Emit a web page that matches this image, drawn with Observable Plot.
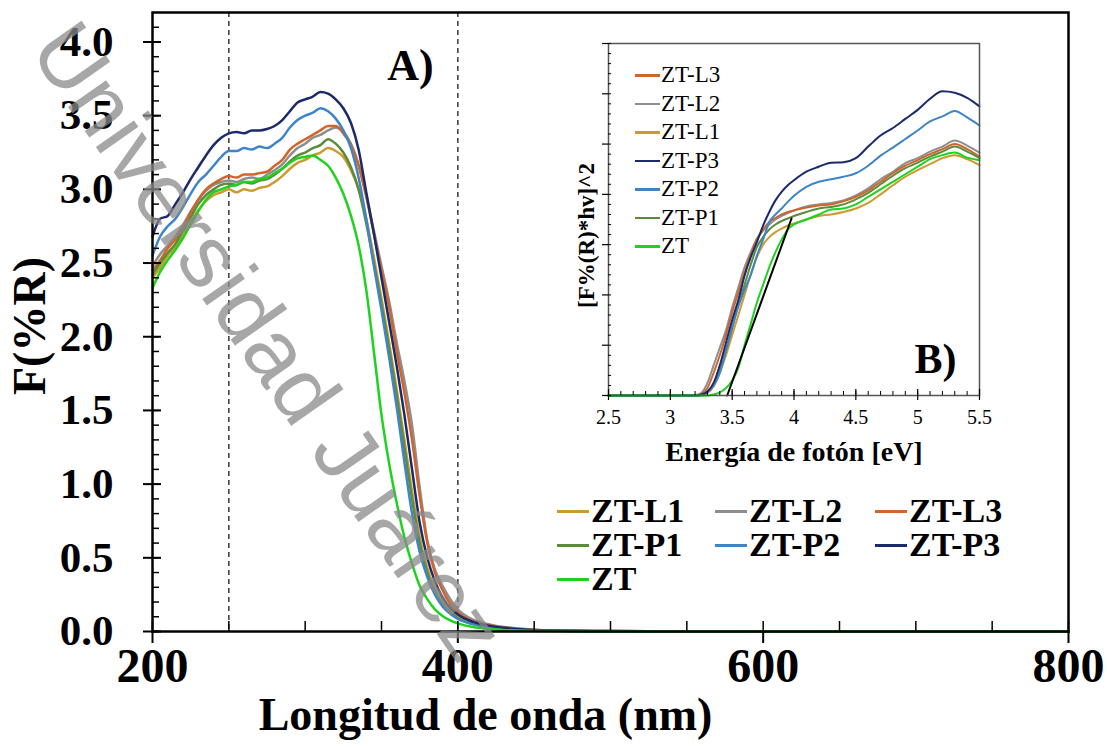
<!DOCTYPE html>
<html><head><meta charset="utf-8">
<script src="https://cdn.jsdelivr.net/npm/d3@7"></script>
<script src="https://cdn.jsdelivr.net/npm/@observablehq/plot@0.6"></script>
<style>
html,body{margin:0;padding:0;background:#fff;overflow:hidden;}
#wrap{position:relative;width:1107px;height:747px;overflow:hidden;}
#main{position:absolute;left:0;top:0;}
#inset{position:absolute;left:540px;top:30px;}
#leg{position:absolute;left:557px;top:494px;display:grid;grid-template-columns:158px 160px 160px;grid-auto-rows:34px;font-family:"Liberation Serif",serif;font-weight:bold;font-size:34px;color:#000;}
#leg div,#ileg div{display:flex;align-items:center;white-space:nowrap;}
#leg span.l{display:inline-block;width:32px;height:3px;margin-right:2px;}
#ileg{position:absolute;left:635px;top:61px;display:grid;grid-auto-rows:28.5px;font-family:"Liberation Serif",serif;font-size:23px;color:#000;}
#ileg span.l{display:inline-block;width:25px;height:2.5px;margin-right:1px;}
#wm{position:absolute;left:0;top:0;pointer-events:none;}
</style></head><body><div id="wrap"><div id="main"></div><div id="inset"></div><div id="leg"></div><div id="ileg"></div><svg id="wm" width="1107" height="747"></svg></div>
<script>
// ---------- Main chart data (A) ----------
const wl = [200,205,210,215,220,225,230,235,240,245,250,255,260,265,270,275,280,285,290,295,300,305,310,315,320,325,330,335,340,345,350,355,360,365,370,375,380,385,390,395,400,410,420,430,440,450,470,500,550,600,700,800];
const F_L1 = [2.40,2.47,2.55,2.61,2.69,2.78,2.86,2.92,2.96,2.98,3.00,2.98,3.00,2.99,3.01,3.02,3.05,3.09,3.14,3.18,3.20,3.23,3.25,3.28,3.26,3.22,3.13,3.00,2.80,2.54,2.26,1.96,1.64,1.30,0.95,0.64,0.43,0.29,0.20,0.14,0.10,0.055,0.033,0.021,0.014,0.009,0.004,0.002,0.001,0.001,0.001,0.001];
const F_L2 = [2.48,2.56,2.62,2.68,2.76,2.85,2.93,2.99,3.03,3.05,3.06,3.05,3.07,3.08,3.07,3.10,3.13,3.17,3.23,3.28,3.31,3.35,3.37,3.40,3.42,3.39,3.31,3.17,2.96,2.72,2.48,2.24,1.96,1.70,1.40,0.98,0.62,0.42,0.31,0.22,0.15,0.08,0.05,0.03,0.02,0.012,0.006,0.003,0.002,0.001,0.001,0.001];
const F_L3 = [2.45,2.52,2.60,2.66,2.74,2.84,2.93,3.00,3.04,3.07,3.09,3.08,3.10,3.10,3.11,3.12,3.16,3.20,3.27,3.31,3.34,3.37,3.40,3.43,3.43,3.38,3.30,3.16,2.95,2.70,2.45,2.20,1.90,1.62,1.30,0.92,0.60,0.40,0.28,0.19,0.13,0.07,0.045,0.028,0.018,0.011,0.005,0.003,0.002,0.001,0.001,0.001];
const F_P1 = [2.42,2.50,2.57,2.63,2.72,2.81,2.90,2.96,3.00,3.03,3.04,3.03,3.05,3.04,3.06,3.07,3.10,3.14,3.19,3.23,3.25,3.28,3.30,3.34,3.31,3.25,3.15,3.00,2.77,2.50,2.22,1.92,1.60,1.25,0.90,0.60,0.40,0.27,0.18,0.13,0.09,0.05,0.03,0.02,0.013,0.008,0.004,0.002,0.001,0.001,0.001,0.001];
const F_P2 = [2.55,2.68,2.75,2.80,2.88,2.97,3.05,3.10,3.16,3.22,3.26,3.26,3.28,3.27,3.29,3.28,3.31,3.35,3.42,3.47,3.50,3.52,3.55,3.53,3.48,3.40,3.28,3.08,2.80,2.48,2.18,1.86,1.52,1.15,0.80,0.54,0.37,0.25,0.17,0.12,0.085,0.05,0.03,0.02,0.013,0.008,0.004,0.002,0.001,0.001,0.001,0.001];
const F_P3 = [2.68,2.80,2.82,2.90,2.98,3.07,3.15,3.23,3.30,3.35,3.38,3.39,3.38,3.40,3.40,3.41,3.43,3.47,3.53,3.59,3.61,3.63,3.66,3.65,3.61,3.55,3.45,3.27,2.98,2.70,2.40,2.10,1.80,1.47,1.10,0.74,0.50,0.34,0.23,0.16,0.115,0.065,0.040,0.025,0.016,0.010,0.005,0.003,0.002,0.001,0.001,0.001];
const F_ZT = [2.33,2.44,2.52,2.59,2.67,2.76,2.85,2.93,2.98,3.00,3.02,3.03,3.05,3.05,3.07,3.08,3.11,3.14,3.18,3.21,3.22,3.23,3.20,3.16,3.08,2.97,2.82,2.62,2.32,1.90,1.47,1.14,0.87,0.64,0.46,0.31,0.22,0.15,0.105,0.075,0.055,0.03,0.018,0.011,0.007,0.005,0.003,0.002,0.001,0.001,0.001,0.001];
const yMajor = [0,0.5,1.0,1.5,2.0,2.5,3.0,3.5,4.0];
const xMajor = [200,400,600,800];
const dashedAt = [250,400];

// ---------- Inset data (B) ----------
const eV = [2.5,3.0,3.2,3.25,3.3,3.35,3.4,3.45,3.5,3.55,3.6,3.65,3.7,3.75,3.8,3.85,3.9,3.95,4.0,4.1,4.2,4.3,4.4,4.5,4.6,4.7,4.8,4.9,5.0,5.1,5.2,5.3,5.4,5.5];
const B_L1 = [0,0,0,0,0.05,0.18,0.45,0.8,1.2,1.6,2.0,2.4,2.75,3.0,3.15,3.25,3.32,3.38,3.42,3.5,3.57,3.6,3.65,3.72,3.83,4.0,4.18,4.35,4.48,4.6,4.72,4.78,4.7,4.58];
const B_L2 = [0,0,0.01,0.05,0.25,0.6,0.95,1.3,1.75,2.15,2.55,2.85,3.12,3.28,3.4,3.5,3.57,3.63,3.68,3.76,3.8,3.83,3.88,3.98,4.12,4.3,4.45,4.62,4.72,4.85,4.95,5.07,4.97,4.83];
const B_L3 = [0,0,0,0.03,0.15,0.45,0.8,1.2,1.65,2.05,2.45,2.8,3.1,3.3,3.45,3.53,3.6,3.65,3.68,3.74,3.78,3.8,3.86,3.95,4.08,4.25,4.42,4.57,4.68,4.8,4.9,5.0,4.9,4.75];
const B_P1 = [0,0,0,0.01,0.07,0.22,0.5,0.9,1.35,1.8,2.2,2.6,2.95,3.15,3.3,3.4,3.47,3.52,3.57,3.65,3.72,3.75,3.8,3.9,4.03,4.2,4.37,4.52,4.63,4.75,4.85,4.95,4.85,4.72];
const B_P2 = [0,0,0,0.01,0.06,0.2,0.45,0.9,1.35,1.77,2.1,2.4,2.78,3.1,3.45,3.6,3.72,3.85,3.97,4.15,4.25,4.3,4.35,4.42,4.57,4.77,4.93,5.1,5.27,5.45,5.55,5.66,5.53,5.37];
const B_P3 = [0,0,0,0.02,0.08,0.25,0.6,1.05,1.5,1.9,2.38,2.75,3.05,3.38,3.65,3.88,4.05,4.18,4.28,4.45,4.55,4.63,4.64,4.72,4.95,5.17,5.32,5.50,5.68,5.90,6.05,6.02,5.92,5.75];
const B_ZT = [0,0,0,0,0,0.02,0.06,0.15,0.3,0.55,1.0,1.42,1.85,2.2,2.55,2.85,3.1,3.3,3.4,3.5,3.6,3.7,3.72,3.8,3.95,4.1,4.25,4.4,4.55,4.7,4.78,4.83,4.73,4.68];
const fitE = [3.46,3.98];
const fitV = [0,3.52];
const eMajor = [2.5,3,3.5,4,4.5,5,5.5];
const yInsetMajor = [0,1,2,3,4,5,6,7];

// ---------- Series ----------
const names  = ["ZT-L1","ZT-L2","ZT-L3","ZT-P1","ZT-P2","ZT-P3","ZT"];
const colors = ["#CC9A2E","#8E8E8E","#D2642A","#5B8C3A","#3D85C6","#1B2A6B","#1ED31E"];
const mainVals  = [F_L1,F_L2,F_L3,F_P1,F_P2,F_P3,F_ZT];
const insetVals = [B_L1,B_L2,B_L3,B_P1,B_P2,B_P3,B_ZT];
const insetLegendOrder = ["ZT-L3","ZT-L2","ZT-L1","ZT-P3","ZT-P2","ZT-P1","ZT"];

const mainData = names.flatMap((s,k) => wl.map((w,i) => ({s, w, F: mainVals[k][i]})));
const insetData = names.flatMap((s,k) => eV.map((e,i) => ({s, e, v: insetVals[k][i]})));
const fitData = fitE.map((e,i) => ({e, v: fitV[i]}));

const serif = "'Liberation Serif','Times New Roman',serif";
const blank = () => "";

const main = Plot.plot({
  width: 1107, height: 747,
  marginLeft: 152, marginRight: 39, marginTop: 12, marginBottom: 116,
  style: {fontFamily: serif, color: "#000", background: "transparent"},
  x: {domain: [200, 800]},
  y: {domain: [0, 4.2]},
  color: {domain: names, range: colors},
  marks: [
    Plot.ruleX(dashedAt, {stroke: "#444", strokeWidth: 1.6, strokeDasharray: "5,4"}),
    Plot.line(mainData, {x: "w", y: "F", z: "s", stroke: "s", strokeWidth: 2.5, curve: "monotone-x"}),
    Plot.frame({stroke: "#000", strokeWidth: 2.5}),
    Plot.axisY(yMajor, {tickSize: 9, tickPadding: 30, strokeWidth: 2, tickFormat: d3.format(".1f"), fontSize: 43, fontWeight: "bold", label: null}),
    Plot.axisY(yMajor, {tickSize: -9, strokeWidth: 2, tickFormat: blank, label: null}),
    Plot.axisY(d3.range(0, 4.2, 0.1), {tickSize: -7, strokeWidth: 1.5, tickFormat: blank, label: null}),
    Plot.axisX(xMajor, {tickSize: 12, tickPadding: 4, strokeWidth: 2, fontSize: 48, fontWeight: "bold", label: null}),
    Plot.axisX(d3.range(200, 801, 50), {tickSize: -10, strokeWidth: 1.5, tickFormat: blank, label: null}),
    Plot.text(["Longitud de onda (nm)"], {text: d => d, frameAnchor: "bottom", textAnchor: "middle", dx: -125, dy: 84, fontSize: 46, fontWeight: "bold", lineAnchor: "middle"}),
    Plot.text(["F(%R)"], {text: d => d, frameAnchor: "left", textAnchor: "middle", rotate: -90, dx: -122, dy: 4, fontSize: 46, fontWeight: "bold", lineAnchor: "middle"}),
    Plot.text(["A)"], {text: d => d, frameAnchor: "top-left", textAnchor: "middle", dx: 258, dy: 53, fontSize: 44, fontWeight: "bold", lineAnchor: "middle"})
  ]
});
document.getElementById("main").appendChild(main);

const inset = Plot.plot({
  width: 460, height: 440,
  marginLeft: 68, marginRight: 21, marginTop: 13, marginBottom: 75,
  style: {fontFamily: serif, color: "#000", background: "transparent"},
  x: {domain: [2.5, 5.5]},
  y: {domain: [0, 7]},
  color: {domain: names, range: colors},
  marks: [
    Plot.line(insetData, {x: "e", y: "v", z: "s", stroke: "s", strokeWidth: 2, curve: "monotone-x"}),
    Plot.line(fitData, {x: "e", y: "v", stroke: "#000", strokeWidth: 2}),
    Plot.frame({stroke: "#555", strokeWidth: 1.5}),
    Plot.axisX(eMajor, {tickSize: 5, tickPadding: 9, strokeWidth: 1.2, fontSize: 20, tickFormat: d => String(d), label: null}),
    Plot.axisX(eMajor, {tickSize: -6, strokeWidth: 1.2, tickFormat: blank, label: null}),
    Plot.axisX(d3.range(2.5, 5.51, 0.1), {tickSize: -4, strokeWidth: 1, tickFormat: blank, label: null}),
    Plot.axisY(yInsetMajor, {tickSize: 6, strokeWidth: 1.2, tickFormat: blank, label: null}),
    Plot.axisY(d3.range(0, 7.01, 0.2), {tickSize: -3, strokeWidth: 1, tickFormat: blank, label: null}),
    Plot.text(["Energía de fotón [eV]"], {text: d => d, frameAnchor: "bottom", textAnchor: "middle", dy: 57, fontSize: 28, fontWeight: "bold", lineAnchor: "middle"}),
    Plot.text(["[F%(R)*hv]^2"], {text: d => d, frameAnchor: "left", textAnchor: "middle", rotate: -90, dx: -22, dy: 16, fontSize: 23, fontWeight: "bold", lineAnchor: "middle"}),
    Plot.text(["B)"], {text: d => d, frameAnchor: "bottom-right", textAnchor: "middle", dx: -44, dy: -36, fontSize: 42, fontWeight: "bold", lineAnchor: "middle"})
  ]
});
document.getElementById("inset").appendChild(inset);

// Main legend (3 columns)
const leg = d3.select("#leg");
names.forEach((n,k) => {
  const it = leg.append("div");
  it.append("span").attr("class","l").style("background", colors[k]);
  it.append("span").text(n);
});
// Inset legend
const ileg = d3.select("#ileg");
insetLegendOrder.forEach(n => {
  const k = names.indexOf(n);
  const it = ileg.append("div");
  it.append("span").attr("class","l").style("background", colors[k]);
  it.append("span").text(n);
});

// Watermark
d3.select("#wm").append("text")
  .attr("transform", "translate(28,50) rotate(55)")
  .attr("font-family", "'Liberation Sans', Arial, sans-serif")
  .attr("font-size", 88)
  .attr("fill", "#8a8a8a")
  .attr("fill-opacity", 0.75)
  .text("Universidad Juárez");
</script>
</body></html>
